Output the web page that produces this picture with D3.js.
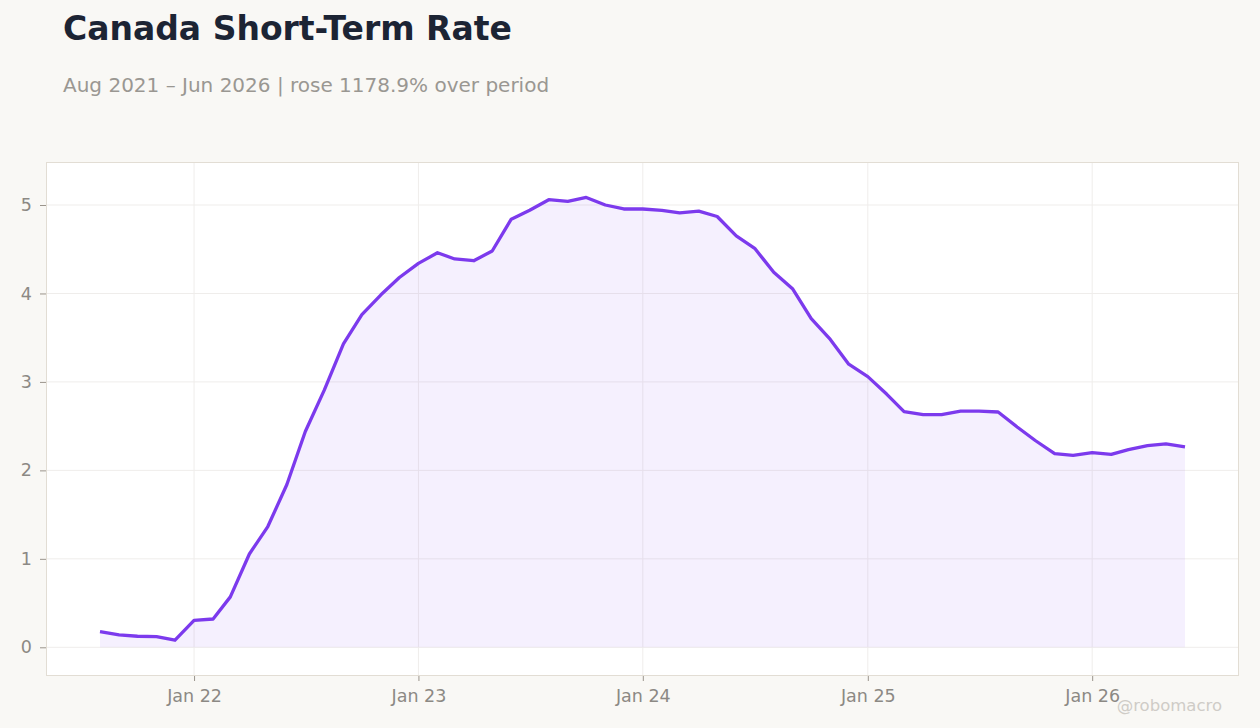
<!DOCTYPE html>
<html>
<head>
<meta charset="utf-8">
<script src="https://cdn.jsdelivr.net/npm/d3@7"></script>
<style>
  html, body { margin: 0; padding: 0; background: #f9f8f5; }
  body { width: 1260px; height: 728px; overflow: hidden; font-family: "DejaVu Sans", sans-serif; }
</style>
</head>
<body>
<div id="chart"></div>
<script>
// --- Data (monthly, Aug 2021 - Jun 2026) ---
const startMonth = "2021-08";
const rateValues = [
  0.177, 0.14, 0.125, 0.12, 0.08,            // Aug-Dec 2021
  0.305, 0.32, 0.57, 1.055, 1.365, 1.84,     // Jan-Jun 2022
  2.44, 2.91, 3.43, 3.76, 3.985, 4.18,       // Jul-Dec 2022
  4.34, 4.46, 4.39, 4.37, 4.48, 4.84,        // Jan-Jun 2023
  4.94, 5.06, 5.04, 5.085, 5.0, 4.955,       // Jul-Dec 2023
  4.955, 4.94, 4.91, 4.93, 4.87, 4.65,       // Jan-Jun 2024
  4.51, 4.24, 4.05, 3.715, 3.48, 3.2,        // Jul-Dec 2024
  3.06, 2.86, 2.665, 2.63, 2.63, 2.67,       // Jan-Jun 2025
  2.67, 2.66, 2.49, 2.335, 2.19, 2.17,       // Jul-Dec 2025
  2.2, 2.18, 2.235, 2.28, 2.3, 2.265         // Jan-Jun 2026
];
const yTickValues = [0, 1, 2, 3, 4, 5];
const xTickLabels = ["Jan 22", "Jan 23", "Jan 24", "Jan 25", "Jan 26"];

const titleText = "Canada Short-Term Rate";
const subtitleText = "Aug 2021 \u2013 Jun 2026 | rose 1178.9% over period";
const creditText = "@robomacro";

// --- Layout ---
const W = 1260, H = 728;
const plot = { left: 46, top: 162, right: 1239, bottom: 676 };
const lineColor = "#7c3aed";

const parseMonth = d3.timeParse("%Y-%m");
const t0 = parseMonth(startMonth);
const data = rateValues.map((v, i) => ({ date: d3.timeMonth.offset(t0, i), value: v }));
const xTicks = xTickLabels.map((s, i) => new Date(2022 + i, 0, 1));

const svg = d3.select("#chart").append("svg")
  .attr("width", W).attr("height", H)
  .style("font-family", "'DejaVu Sans', sans-serif");

// Title and subtitle
svg.append("text")
  .attr("x", 63).attr("y", 40)
  .attr("font-size", 33).attr("font-weight", "bold")
  .attr("fill", "#1c2434")
  .text(titleText);

svg.append("text")
  .attr("x", 63).attr("y", 92)
  .attr("font-size", 20)
  .attr("fill", "#9a9792")
  .text(subtitleText);

// --- Scales ---
const x = d3.scaleTime()
  .domain([data[0].date, data[data.length - 1].date])
  .range([100, 1185]);

const y = d3.scaleLinear()
  .domain([0, 5])
  .range([647.3, 205]);

// Plot background
svg.append("rect")
  .attr("x", plot.left).attr("y", plot.top)
  .attr("width", plot.right - plot.left).attr("height", plot.bottom - plot.top)
  .attr("fill", "#ffffff");

// Gridlines
const grid = svg.append("g").attr("class", "grid");
grid.selectAll(".hgrid").data(yTickValues).join("line")
  .attr("x1", plot.left).attr("x2", plot.right)
  .attr("y1", (d) => y(d)).attr("y2", (d) => y(d))
  .attr("stroke", "#efedeb").attr("stroke-width", 1);
grid.selectAll(".vgrid").data(xTicks).join("line")
  .attr("x1", (d) => x(d)).attr("x2", (d) => x(d))
  .attr("y1", plot.top).attr("y2", plot.bottom)
  .attr("stroke", "#efedeb").attr("stroke-width", 1);

// Area + line
const area = d3.area()
  .x((d) => x(d.date))
  .y0(y(0))
  .y1((d) => y(d.value));

const line = d3.line()
  .x((d) => x(d.date))
  .y((d) => y(d.value));

svg.append("path").datum(data)
  .attr("d", area)
  .attr("fill", lineColor).attr("fill-opacity", 0.08);

svg.append("path").datum(data)
  .attr("d", line)
  .attr("fill", "none")
  .attr("stroke", lineColor).attr("stroke-width", 3.3)
  .attr("stroke-linejoin", "round");

// Plot border
svg.append("rect")
  .attr("x", plot.left + 0.5).attr("y", plot.top + 0.5)
  .attr("width", plot.right - plot.left - 1).attr("height", plot.bottom - plot.top - 1)
  .attr("fill", "none").attr("stroke", "#e2ddd4");

// --- Axes ---
const yAxis = svg.append("g")
  .attr("transform", `translate(${plot.left},0)`)
  .call(d3.axisLeft(y).tickValues(yTickValues).tickSize(6).tickPadding(8).tickFormat(d3.format("d")));

const xAxis = svg.append("g")
  .attr("transform", `translate(0,${plot.bottom})`)
  .call(d3.axisBottom(x).tickValues(xTicks).tickSize(5).tickPadding(9)
    .tickFormat((d, i) => xTickLabels[i]));

[yAxis, xAxis].forEach((g) => {
  g.select(".domain").remove();
  g.selectAll(".tick line").attr("stroke", "#9a948c");
  g.selectAll(".tick text")
    .attr("fill", "#8c8984")
    .attr("font-size", 17.5)
    .attr("font-family", "'DejaVu Sans', sans-serif");
});

// Credit
svg.append("text")
  .attr("x", 1222).attr("y", 711)
  .attr("text-anchor", "end")
  .attr("font-size", 16.5)
  .attr("fill", "#cfccc7")
  .text(creditText);
</script>
</body>
</html>
